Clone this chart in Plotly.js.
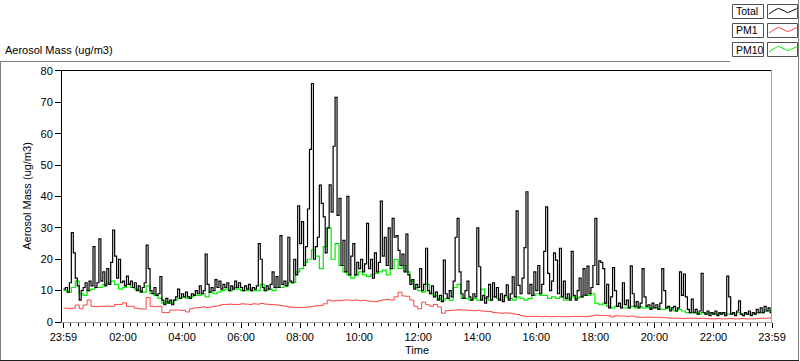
<!DOCTYPE html>
<html><head><meta charset="utf-8">
<script src="https://cdn.plot.ly/plotly-3.0.1.min.js"></script>
<style>html,body{margin:0;padding:0;background:#fff;overflow:hidden}#chart{width:800px;height:361px}</style>
</head><body><div id="chart"></div>
<script>
// ---- data (minutes after 23:59) ----
const totalStep = 4;   // minutes between Total samples
const pmStep = 8;      // minutes between PM1 / PM10 samples
const totalValues = [
 10.5, 11, 9.5, 12.5, 28.5, 22, 14, 11.5, 7, 10,
 11, 12.5, 10, 13, 11.5, 24, 11, 12.5, 26.5, 13,
 16, 11.5, 17, 12, 19, 29.3, 21, 14, 20, 12.5,
 13, 11.5, 14.6, 12, 13, 11, 12.5, 10, 11.5, 9.5,
 11, 12.5, 24.5, 17, 10, 9, 11, 8.5, 9, 14.5,
 7, 5.5, 7.5, 6, 7, 5.5, 7, 8, 10.5, 7.5,
 9, 8, 9.5, 8, 7.5, 9, 8.5, 10, 9, 11.5,
 9, 10, 21.6, 12, 9.5, 11, 10, 13.5, 11, 13,
 10.5, 12, 11, 12.5, 10, 11.5, 10.5, 13, 11, 12.5,
 11, 10, 11.5, 10.5, 12, 10, 11, 10.5, 11.5, 25,
 20, 11, 10, 11.5, 10.5, 12, 16, 11, 14.5, 11,
 27.5, 12, 13, 11.5, 27, 13, 12.5, 20, 15, 37,
 25, 32, 18, 24, 36, 55, 76, 20, 24, 27,
 43.6, 37.8, 33.5, 22, 30, 43.7, 35, 56, 71.6, 34,
 39.4, 18, 26, 16, 40, 15, 21, 25, 15, 19,
 17, 20, 16, 18.5, 31.4, 17, 20, 14, 22, 16,
 19, 38.5, 21, 27, 18, 30, 17, 33, 27, 27.5,
 22.8, 18, 21.6, 16, 28, 15, 12, 13.5, 10.5, 12,
 11, 17, 10, 12, 23.5, 10, 9, 11.5, 8, 9.5,
 7, 8.5, 6.5, 19.7, 9, 7.5, 10, 8, 13, 27,
 33, 16, 9, 7.5, 10, 13, 8, 7, 9, 8,
 30, 17.6, 7, 8.5, 6, 8, 12, 7, 12.5, 8,
 11, 7, 9, 6.5, 8.5, 11.8, 7, 9, 14.4, 8,
 35.4, 11.7, 9, 14, 23.7, 41.5, 9, 12, 8.5, 16,
 10, 18, 9, 12, 22.5, 36.7, 15.5, 10, 13, 22,
 19.7, 9, 23.5, 8, 13, 7.5, 9, 7, 22.5, 8.5,
 7, 10, 14, 8, 17, 8.5, 17.8, 9, 11, 18,
 33, 12, 19.5, 19, 17, 6, 12, 4.5, 8, 17.3,
 10, 5, 6, 4.5, 12.5, 5.5, 7, 4.5, 17.9, 9,
 5, 6.5, 4.5, 6, 17, 8, 5, 5.5, 4, 6,
 4.5, 5.5, 4, 6, 17, 10, 4.5, 5, 3.5, 4.5,
 5, 3.5, 4.5, 16, 8.5, 15.3, 8, 4, 3, 7.3,
 3, 4, 2.5, 3.5, 15.5, 3, 2.5, 3.5, 2, 3,
 2.5, 3.5, 2, 3, 2.5, 3, 2, 14.6, 8, 2.5,
 3, 2, 3.5, 6.7, 2.5, 2, 3, 2.5, 3.5, 2,
 3, 2.5, 4, 3, 4.5, 3, 5, 3.5, 4.5, 3, 4
];
const pm10Values = [
 10, 9.5, 11, 13, 9, 8.5, 10, 10.5, 11, 11,
 12, 12.5, 13, 12, 10.5, 11, 12, 11, 10.5, 10,
 9.5, 11.5, 9, 8.5, 7.5, 6, 6.5, 6, 7, 7.5,
 8, 7.5, 8, 8.5, 8.5, 9, 8, 9.5, 9, 9.5,
 10, 10.5, 10, 11, 10.5, 10, 10, 10.5, 10, 10,
 12, 10, 10.5, 10, 11, 11, 11.5, 12.5, 12.5, 16,
 17, 19, 20, 23, 21, 17, 24, 30, 20, 25,
 18, 16, 15, 14, 15, 16, 15, 14.5, 15, 15.5,
 16, 16.5, 15, 17, 20, 17, 18, 16, 13, 11,
 10, 9.5, 12, 9, 8.5, 7.5, 7, 7.5, 7, 11,
 12, 7.5, 7.5, 7, 7.5, 7, 10.5, 7.5, 7, 8,
 7.5, 7, 8, 7.5, 7, 8, 7.5, 7, 7.5, 8.5,
 9, 8.5, 8.5, 7.5, 8, 7.5, 8, 7, 7.5, 8,
 7.5, 8, 8.5, 8.5, 9, 6, 5.5, 6, 5, 4.5,
 5, 5, 4.5, 4.5, 5, 4.5, 5, 4.5, 4.5, 4.5,
 4.5, 4, 4, 4.5, 4, 3.5, 4, 3.5, 3, 3,
 3, 2.5, 3, 2.5, 3, 2.5, 2.5, 3, 2.5, 2.5,
 2.5, 3, 2.5, 2.5, 2.5, 2.5, 3, 3, 3.5, 3.5, 3.5
];
const pm1Values = [
 4.4, 4.3, 4.4, 5.4, 4.2, 5.4, 7.0, 5.0, 4.9, 5.0,
 5.0, 5.1, 5.0, 5.6, 5.6, 6.1, 5.0, 5.0, 4.4, 4.2,
 4.1, 7.8, 5.0, 4.9, 5.0, 3.0, 3.0, 3.8, 3.8, 3.8,
 3.7, 3.2, 4.2, 4.5, 4.6, 4.8, 4.6, 4.8, 5.0, 5.2,
 5.6, 5.6, 5.7, 5.6, 5.6, 5.8, 5.7, 5.6, 5.8, 5.7,
 5.9, 5.7, 5.6, 5.5, 5.4, 5.2, 5.0, 4.8, 4.7, 4.6,
 4.6, 4.7, 4.8, 5.0, 5.2, 5.3, 5.8, 7.0, 6.7, 6.8,
 6.8, 7.0, 7.0, 6.9, 7.0, 6.8, 6.9, 6.7, 6.6, 6.5,
 6.8, 7.1, 7.2, 7.0, 8.0, 9.5, 8.3, 8.2, 7.0, 5.0,
 4.2, 6.3, 5.5, 5.0, 5.6, 4.8, 2.8, 3.6, 3.7, 3.8,
 3.9, 3.8, 3.8, 3.7, 3.6, 3.7, 3.5, 3.4, 3.3, 3.0,
 2.9, 2.8, 2.9, 2.8, 2.6, 2.4, 2.0, 1.8, 1.8, 1.8,
 1.8, 1.7, 1.8, 1.7, 1.7, 1.8, 1.7, 1.7, 1.7, 1.8,
 1.8, 1.8, 1.7, 1.8, 2.0, 2.2, 2.1, 2.1, 2.0, 1.6,
 2.0, 1.9, 1.9, 1.8, 1.9, 1.6, 1.5, 1.5, 1.6, 1.5,
 1.5, 1.5, 1.4, 1.3, 1.2, 1.2, 1.2, 1.1, 1.2, 1.2,
 1.2, 1.1, 1.2, 1.1, 1.0, 1.0, 1.1, 1.0, 1.0, 1.1,
 1.0, 1.0, 1.1, 1.0, 1.0, 1.0, 1.1, 1.2, 1.2, 1.3, 1.2
];
const tickMinutes = [0, 121, 241, 361, 481, 601, 721, 841, 961, 1081, 1201, 1321, 1440];
const tickLabels = ['23:59','02:00','04:00','06:00','08:00','10:00','12:00','14:00','16:00','18:00','20:00','22:00','23:59'];
const seriesNames = ['Total', 'PM1', 'PM10'];
const seriesColors = ['#000000', '#ff4040', '#00ee00'];
const yLabel = 'Aerosol Mass (ug/m3)';
const xLabel = 'Time';

// ---- build ----
const tX = totalValues.map((_, i) => i * totalStep);
const pX = pm10Values.map((_, i) => i * pmStep);
const qX = pm1Values.map((_, i) => i * pmStep);
const minorTicks = [];
for (let k = 0; k < tickMinutes.length - 1; k++) {
  for (let m = 1; m <= 7; m++) minorTicks.push(tickMinutes[k] + 15 * m);
}

const FONT = 'Liberation Sans, Arial, sans-serif';
const L = 62, R = 772, T = 70, B = 322;
const px = x => (x - L) / (R - L);
const py = y => (B - y) / (B - T);

const traces = [
  {x: pX, y: pm10Values, name: seriesNames[2], mode: 'lines', line: {color: seriesColors[2], width: 1.2, shape: 'hv'}},
  {x: tX, y: totalValues, name: seriesNames[0], mode: 'lines', line: {color: seriesColors[0], width: 1.2, shape: 'hv'}},
  {x: qX, y: pm1Values, name: seriesNames[1], mode: 'lines', line: {color: seriesColors[1], width: 1, shape: 'hv'}}
];

const shapes = [];
const line = (x0, y0, x1, y1, color, w) => shapes.push({type: 'line', xref: 'paper', yref: 'paper',
  x0: px(x0), y0: py(y0), x1: px(x1), y1: py(y1), line: {color: color, width: w || 1}});
// plot frame
line(62, 70.5, 772, 70.5, '#000');
line(771.5, 70, 771.5, 322, '#a0a0a0');
// outer frame
line(0, 61.5, 730, 61.5, '#808080');
line(0.5, 61, 0.5, 361, '#808080');
line(798.5, 0, 798.5, 361, '#808080');
line(0, 360.5, 799, 360.5, '#202020');

const annotations = [{xref: 'paper', yref: 'paper', x: px(3), y: py(50), xanchor: 'left', yanchor: 'middle',
  text: yLabel, showarrow: false, font: {family: FONT, size: 11, color: '#000'}}];

const rowsY = [4, 23, 42];
const zig = [[2, 10], [6.3, 7], [11.3, 4.3], [17, 6.7], [20.3, 8.7], [24.7, 7], [29.7, 4.7]];
seriesNames.forEach((nm, r) => {
  const y0 = rowsY[r], y1 = y0 + 14;
  shapes.push({type: 'rect', xref: 'paper', yref: 'paper', x0: px(732.5), x1: px(763.5), y0: py(y0 + 0.5), y1: py(y1 + 0.5),
    line: {color: '#505050', width: 1}, fillcolor: '#ffffff'});
  shapes.push({type: 'rect', xref: 'paper', yref: 'paper', x0: px(767.5), x1: px(797.5), y0: py(y0 + 0.5), y1: py(y1 + 0.5),
    line: {color: '#505050', width: 1}, fillcolor: '#ffffff'});
  const path = zig.map((p, k) => (k ? 'L' : 'M') + px(767 + p[0]) + ',' + py(y0 + p[1])).join(' ');
  shapes.push({type: 'path', xref: 'paper', yref: 'paper', path: path, line: {color: seriesColors[r], width: 1}});
  annotations.push({xref: 'paper', yref: 'paper', x: px(734), y: py(y0 + 7.5), xanchor: 'left', yanchor: 'middle',
    text: nm, showarrow: false, font: {family: FONT, size: 10.5, color: '#000'}});
});

const layout = {
  width: 800, height: 361,
  margin: {l: L, r: 800 - R, t: T, b: 361 - B, pad: 0},
  paper_bgcolor: '#ffffff', plot_bgcolor: '#ffffff',
  showlegend: false,
  font: {family: FONT, size: 11, color: '#000'},
  xaxis: {
    range: [-3, 1440], tickmode: 'array', tickvals: tickMinutes, ticktext: tickLabels,
    ticks: 'outside', ticklen: 5, tickwidth: 1, tickcolor: '#000',
    showline: true, linecolor: '#a0a0a0', linewidth: 1, showgrid: false, zeroline: false,
    tickfont: {family: FONT, size: 11, color: '#000'},
    minor: {tickmode: 'array', tickvals: minorTicks, ticks: 'outside', ticklen: 3, tickcolor: '#000', tickwidth: 1, showgrid: false},
    title: {text: xLabel, font: {family: FONT, size: 11, color: '#000'}, standoff: 4}
  },
  yaxis: {
    range: [0, 80.3], tickmode: 'linear', tick0: 0, dtick: 10,
    ticks: 'outside', ticklen: 6, tickwidth: 1, tickcolor: '#000',
    showline: true, linecolor: '#000', linewidth: 1, showgrid: false, zeroline: false,
    tickfont: {family: FONT, size: 11, color: '#000'},
    title: {text: yLabel, font: {family: FONT, size: 11, color: '#000'}, standoff: 6}
  },
  shapes: shapes, annotations: annotations
};

Plotly.newPlot('chart', traces, layout, {displayModeBar: false, staticPlot: true});
</script>
</body></html>
